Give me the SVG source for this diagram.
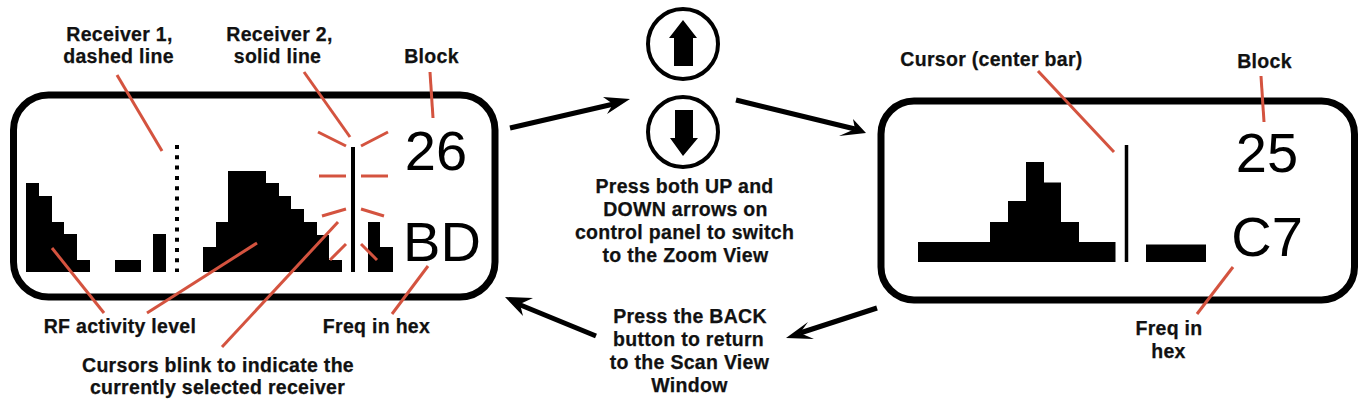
<svg xmlns="http://www.w3.org/2000/svg" width="1365" height="401" viewBox="0 0 1365 401">
<style>
.box{fill:#fff;stroke:#000;stroke-width:7}
.bar{fill:#000;stroke:none}
.cur{stroke:#000;fill:none}
.red{stroke:#d4533f;stroke-width:3;fill:none}
.lbl{font-family:"Liberation Sans",Arial,sans-serif;font-weight:700;font-size:19.5px;letter-spacing:.3px;text-anchor:middle;fill:#111;stroke:#111;stroke-width:.25}
.big{font-family:"Liberation Sans",Arial,sans-serif;font-size:56px;fill:#000;text-anchor:middle}
.ring{fill:#fff;stroke:#000;stroke-width:4}
.shaft{stroke:#000;stroke-width:5;fill:none}
</style>
<rect width="1365" height="401" fill="#fff"/>
<g id="scan-view">
<rect class="box" x="13.5" y="95" width="481.5" height="202" rx="35"/>
<path class="bar" d="M26 272V183H39V196H52V222H64V234H77V260H90V272Z"/>
<path class="bar" d="M115 272V260H141V272Z"/>
<path class="bar" d="M153 272V234H166V272Z"/>
<path class="cur" stroke-width="4" stroke-dasharray="4 6.3" d="M177 145V272"/>
<path class="bar" d="M203 272V247H216V222H228V171H266V183H279V196H291V209H304V222H317V235H329V260H342V272Z"/>
<path class="cur" stroke-width="4" d="M353 147V272"/>
<path class="bar" d="M368 272V222H380V247H393V272Z"/>
<text class="big" x="436" y="170">26</text>
<text class="big" x="442" y="261">BD</text>
</g>
<g id="zoom-view">
<rect class="box" x="881" y="101" width="473.5" height="199" rx="33"/>
<path class="bar" d="M918 262V242H990V222H1008V201H1026V162H1044V182.500H1061V222H1079V242H1115.500V262Z"/>
<path class="cur" stroke-width="3.500" d="M1126.500 145V262"/>
<path class="bar" d="M1146 262V244.500H1206V262Z"/>
<text class="big" x="1267" y="172">25</text>
<text class="big" x="1267" y="256">C7</text>
</g>
<g id="up-button">
<circle class="ring" cx="683" cy="44" r="35"/>
<path class="bar" d="M683 20L697 38H693V66H674V38H669Z"/>
</g>
<g id="down-button">
<circle class="ring" cx="683" cy="132" r="35"/>
<path class="bar" d="M675 110H693V138H698L683 156L670 138H675Z"/>
</g>
<g id="connectors">
<path class="shaft" d="M510 128L618 103"/>
<path class="bar" d="M630 99L603 97L613 104L607 114Z"/>
<path class="shaft" d="M736 100L855 129"/>
<path class="bar" d="M866 133L853 119L855 129L839 136Z"/>
<path class="shaft" d="M877 308L800 333"/>
<path class="bar" d="M786 338L808 322L800 333L814 339Z"/>
<path class="shaft" d="M596 336L518 304"/>
<path class="bar" d="M505 297L533 298L520 304L523 316Z"/>
<g class="red">
<path d="M117 75L162 151"/>
<path d="M304 72L350 137"/>
<path d="M430 72L433 118"/>
<path d="M318 132L346 146"/>
<path d="M361 146L388 132"/>
<path d="M319 176H346"/>
<path d="M361 176H388"/>
<path d="M322 216L346 209"/>
<path d="M361 209L384 216"/>
<path d="M330 260L346 244"/>
<path d="M361 244L377 260"/>
<path d="M52 248L104 313"/>
<path d="M257 243L147 313"/>
<path d="M338 222L222 347"/>
<path d="M428 266L392 314"/>
<path d="M1038 71L1114 152"/>
<path d="M1261 76L1264 122"/>
<path d="M1233 267L1197 314"/>
</g>
</g>
<g id="labels">
<text class="lbl" x="119.500" y="41">Receiver 1,</text>
<text class="lbl" x="118.500" y="63">dashed line</text>
<text class="lbl" x="279.500" y="41">Receiver 2,</text>
<text class="lbl" x="277.500" y="63">solid line</text>
<text class="lbl" x="431.500" y="63">Block</text>
<text class="lbl" x="120" y="333">RF activity level</text>
<text class="lbl" x="376.500" y="333">Freq in hex</text>
<text class="lbl" x="218" y="372">Cursors blink to indicate the</text>
<text class="lbl" x="217.500" y="394">currently selected receiver</text>
<text class="lbl" x="684.500" y="193">Press both UP and</text>
<text class="lbl" x="685.500" y="216">DOWN arrows on</text>
<text class="lbl" x="684.500" y="239">control panel to switch</text>
<text class="lbl" x="685.500" y="262">to the Zoom View</text>
<text class="lbl" x="690" y="323">Press the BACK</text>
<text class="lbl" x="688.500" y="346">button to return</text>
<text class="lbl" x="689.500" y="369">to the Scan View</text>
<text class="lbl" x="689.500" y="392">Window</text>
<text class="lbl" x="991.500" y="66">Cursor (center bar)</text>
<text class="lbl" x="1264.500" y="68">Block</text>
<text class="lbl" x="1169" y="335">Freq in</text>
<text class="lbl" x="1168.500" y="358">hex</text>
</g>
</svg>
